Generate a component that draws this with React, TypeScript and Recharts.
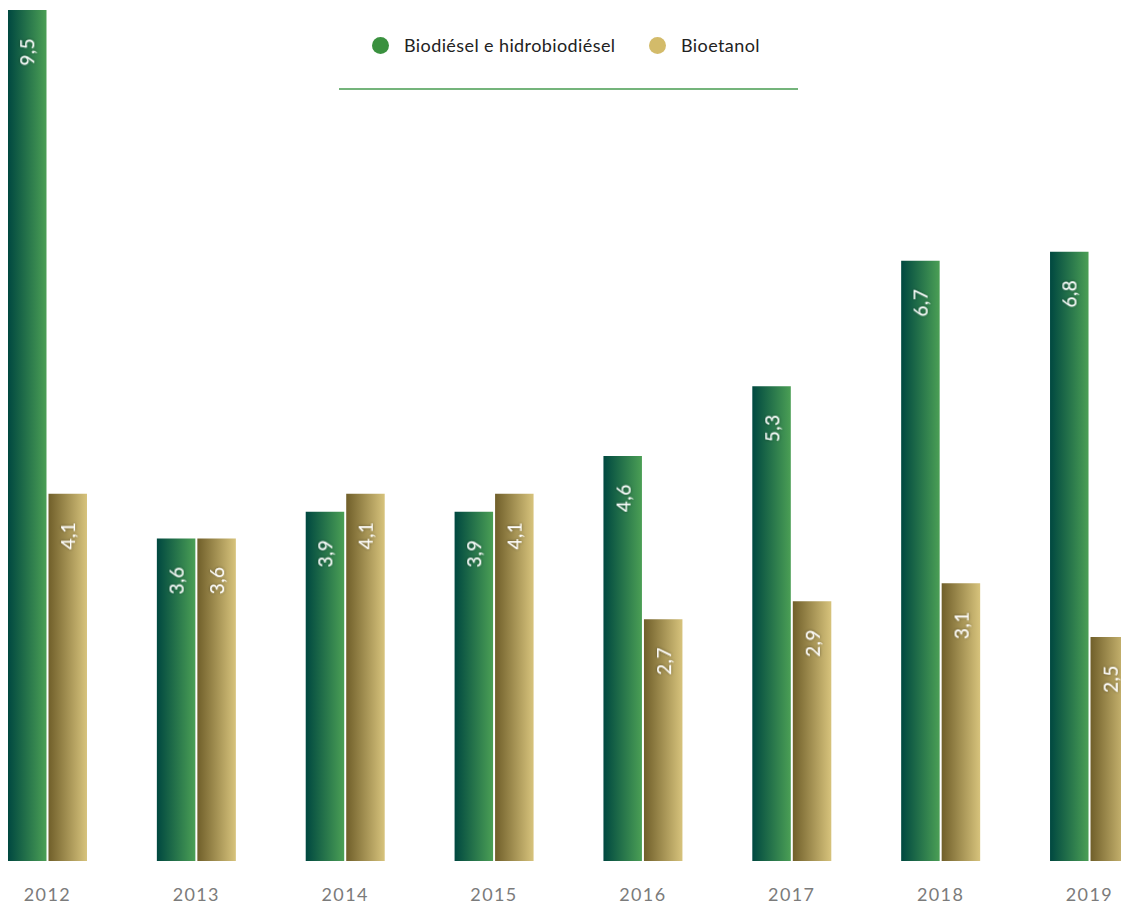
import React from "react";
import { BarChart, Bar, XAxis, YAxis, LabelList } from "recharts";

const years = ["2012", "2013", "2014", "2015", "2016", "2017", "2018", "2019"];
const biodiesel = [9.5, 3.6, 3.9, 3.9, 4.52, 5.3, 6.7, 6.8];
const bioetanol = [4.1, 3.6, 4.1, 4.1, 2.7, 2.9, 3.1, 2.5];
const biodieselLabels = ["9,5", "3,6", "3,9", "3,9", "4,6", "5,3", "6,7", "6,8"];
const bioetanolLabels = ["4,1", "3,6", "4,1", "4,1", "2,7", "2,9", "3,1", "2,5"];

const data = years.map((y, i) => ({
  year: y,
  biodiesel: biodiesel[i],
  bioetanol: bioetanol[i],
  biodieselLabel: biodieselLabels[i],
  bioetanolLabel: bioetanolLabels[i],
}));

const FONT = "Lato, 'Noto Sans', sans-serif";

const RotLabel = (props: any) => {
  const { x, y, width, value } = props;
  const cx = x + width / 2;
  const ty = y + 28;
  return (
    <text
      x={cx}
      y={ty}
      transform={`rotate(-90 ${cx} ${ty})`}
      textAnchor="end"
      dominantBaseline="central"
      fill="#ffffff"
      fontSize={19}
      letterSpacing={0.5}
      fontFamily={FONT}
      filter="url(#txtShadow)"
    >
      {value}
    </text>
  );
};

const YearTick = (props: any) => {
  const { x, y, payload } = props;
  return (
    <text x={x} y={y + 32} textAnchor="middle" fill="#7b7b7b" fontSize={18} letterSpacing={1.4} fontFamily={FONT}>
      {payload.value}
    </text>
  );
};

const legendText: React.CSSProperties = {
  position: "absolute",
  top: 34,
  fontFamily: FONT,
  fontSize: 18,
  letterSpacing: 0.4,
  color: "#222",
  lineHeight: "22px",
  whiteSpace: "nowrap",
};

const dot = (color: string, cx: number): React.CSSProperties => ({
  position: "absolute",
  left: cx - 8.5,
  top: 45 - 8.5,
  width: 17,
  height: 17,
  borderRadius: "50%",
  background: color,
});

const LegendOverlay = () => (
  <>
    <div style={dot("#3a913f", 380)} />
    <div style={{ ...legendText, left: 404 }}>Biodiésel e hidrobiodiésel</div>
    <div style={dot("#d3bb6a", 657)} />
    <div style={{ ...legendText, left: 681 }}>Bioetanol</div>
    <div style={{ position: "absolute", top: 88, left: 339, width: 459, height: 2, background: "#74b47b" }} />
  </>
);

export default function App() {
  return (
    <>
      <style>{"html,body{margin:0;padding:0;overflow:hidden;}"}</style>
      <div style={{ position: "relative", width: 1121, height: 905, overflow: "hidden" }}>
        <div style={{ position: "absolute", left: -26.93, top: 0 }}>
          <BarChart
            width={1190.9}
            height={905}
            data={data}
            margin={{ top: 10, right: 0, bottom: 0, left: 0 }}
            barSize={38.5}
            barGap={2}
          >
            <defs>
              <linearGradient id="gGreen" x1="0" y1="0" x2="1" y2="0">
                <stop offset="0%" stopColor="#004840" />
                <stop offset="100%" stopColor="#4b9f55" />
              </linearGradient>
              <linearGradient id="gGold" x1="0" y1="0" x2="1" y2="0">
                <stop offset="0%" stopColor="#705f2a" />
                <stop offset="100%" stopColor="#d7c37c" />
              </linearGradient>
              <filter id="txtShadow" x="-50%" y="-50%" width="200%" height="200%">
                <feDropShadow dx="0" dy="0" stdDeviation="1.5" floodColor="#000" floodOpacity="0.45" />
              </filter>
            </defs>
            <XAxis dataKey="year" axisLine={false} tickLine={false} height={44} tick={<YearTick />} interval={0} />
            <YAxis hide domain={[0, 9.5]} />
            <Bar dataKey="biodiesel" fill="url(#gGreen)" isAnimationActive={false}>
              <LabelList dataKey="biodieselLabel" content={<RotLabel />} />
            </Bar>
            <Bar dataKey="bioetanol" fill="url(#gGold)" isAnimationActive={false}>
              <LabelList dataKey="bioetanolLabel" content={<RotLabel />} />
            </Bar>
          </BarChart>
        </div>
        <LegendOverlay />
      </div>
    </>
  );
}
